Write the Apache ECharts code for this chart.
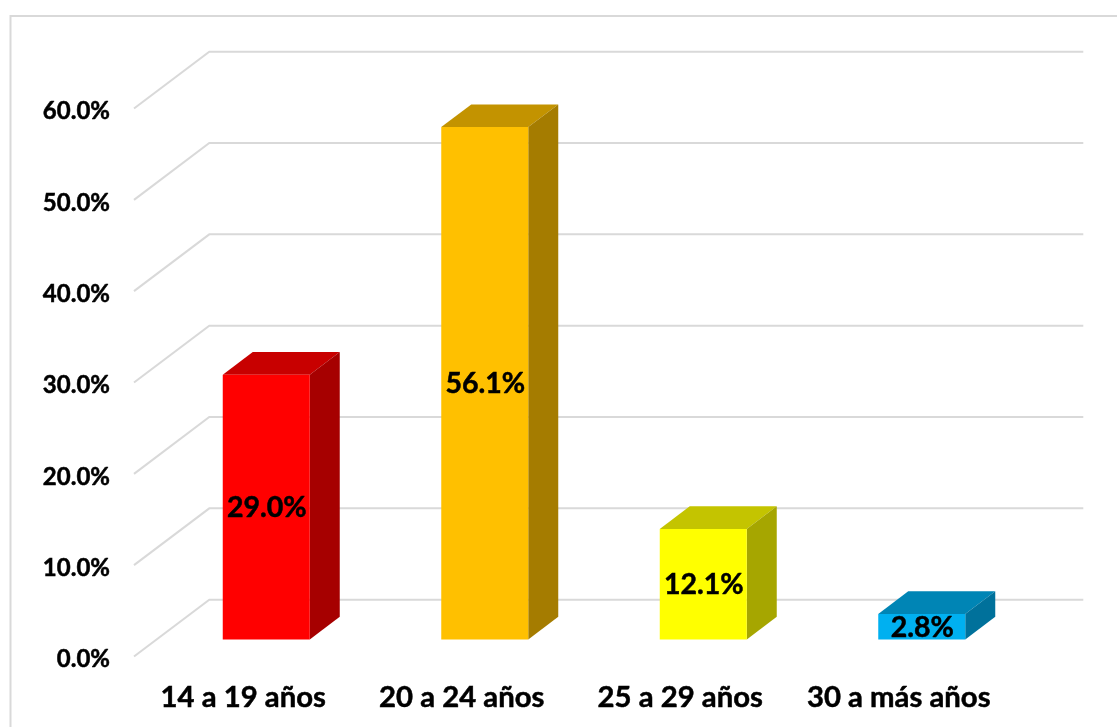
<!DOCTYPE html>
<html><head><meta charset="utf-8">
<style>html,body{margin:0;padding:0;background:#fff}#c{width:1117px;height:727px}</style>
<script src="https://cdn.jsdelivr.net/npm/echarts@6/dist/echarts.min.js"></script>
</head><body><div id="c"></div>
<script>
const categories = ['14 a 19 años', '20 a 24 años', '25 a 29 años', '30 a más años'];
const values = [29.0, 56.1, 12.1, 2.8];
const gridTicks = [0, 10, 20, 30, 40, 50, 60];
const frontColors = ['#ff0000', '#ffc000', '#ffff00', '#00b0f0'];
const topColors = ['#c80000', '#c39300', '#c4c400', '#0085b5'];
const sideColors = ['#a60000', '#a57c00', '#a6a600', '#00719b'];

const FONT = 'Lato, "Noto Sans", sans-serif';
const chart = echarts.init(document.getElementById('c'), null, {renderer: 'canvas'});

chart.setOption({
  animation: false,
  backgroundColor: '#fff',
  graphic: [{
    type: 'rect', silent: true, z: -10,
    shape: {x: 10.5, y: 16, width: 1200, height: 800},
    style: {fill: 'none', stroke: '#d9d9d9', lineWidth: 2}
  }],
  grid: {left: 134, top: 108.5, width: 874, height: 548, containLabel: false},
  xAxis: {
    type: 'category', data: categories,
    axisLine: {show: false}, axisTick: {show: false}, splitLine: {show: false},
    axisLabel: {margin: 27, color: '#000', fontFamily: FONT, fontWeight: 'bold', fontSize: 29.3, interval: 0,
      textBorderColor: '#000', textBorderWidth: 0.5}
  },
  yAxis: {
    type: 'value', min: 0, max: 60, interval: 10,
    axisLine: {show: false}, axisTick: {show: false}, splitLine: {show: false},
    axisLabel: {margin: 24, color: '#000', fontFamily: FONT, fontWeight: 'bold', fontSize: 24,
      verticalAlign: 'top', lineHeight: 6, textBorderColor: '#000', textBorderWidth: 0.5,
      formatter: v => v.toFixed(1) + '%'}
  },
  series: [{
    type: 'custom', z: 1, silent: true,
    data: gridTicks.map(v => [0, v]),
    encode: {x: 0, y: 1},
    renderItem(params, api) {
      const y = api.coord([0, api.value(1)])[1];
      const x0 = params.coordSys.x, x1 = x0 + params.coordSys.width;
      const dx = 75.3, dy = -56.8;
      return {
        type: 'polyline',
        shape: {points: [[x0, y], [x0 + dx, y + dy], [x1 + dx, y + dy]]},
        style: {fill: 'none', stroke: '#d9d9d9', lineWidth: 2}
      };
    }
  }, {
    type: 'custom', z: 2, silent: true,
    data: values.map((v, i) => [i, v]),
    encode: {x: 0, y: 1},
    renderItem(params, api) {
      const i = api.value(0), v = api.value(1);
      const top = api.coord([i, v]), base = api.coord([i, 0]);
      const ox = 23, oy = -17, w = 87, hw = w / 2, dx = 30, dy = -22.7;
      const l = top[0] + ox - hw, r = top[0] + ox + hw;
      const t = top[1] + oy, b = base[1] + oy;
      return {
        type: 'group',
        children: [
          {type: 'polygon', shape: {points: [[l, t], [r, t], [r + dx, t + dy], [l + dx, t + dy]]},
           style: {fill: topColors[i]}},
          {type: 'polygon', shape: {points: [[r, t], [r + dx, t + dy], [r + dx, b + dy], [r, b]]},
           style: {fill: sideColors[i]}},
          {type: 'rect', shape: {x: l, y: t, width: w, height: b - t},
           style: {fill: frontColors[i]}},
          {type: 'text', z2: 10,
           style: {x: top[0] + ox + 0.5, y: (t + b) / 2 + 1, text: v.toFixed(1) + '%', align: 'center', verticalAlign: 'middle',
             fill: '#000', stroke: '#000', lineWidth: 0.5, font: 'bold 28.5px ' + FONT}}
        ]
      };
    }
  }]
});
</script></body></html>
